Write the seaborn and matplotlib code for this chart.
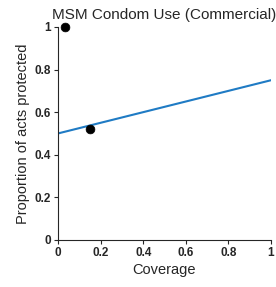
import matplotlib
matplotlib.use('Agg')
import matplotlib.pyplot as plt
import seaborn as sns
import pandas as pd

# fitted line end points and observed data
line_x = [0, 1]
line_y = [0.5, 0.75]
obs_x = [0.035, 0.15]
obs_y = [1.0, 0.52]

sns.set_style('ticks')
plt.rcParams['font.family'] = ['Liberation Sans', 'DejaVu Sans']

fig = plt.figure(figsize=(2.76, 2.87), dpi=100)
ax = fig.add_axes([0.21, 0.164, 0.772, 0.742])

sns.lineplot(x=line_x, y=line_y, ax=ax, color='#1f7bc4', linewidth=1.5)
sns.scatterplot(x=obs_x, y=obs_y, ax=ax, color='black', s=40, edgecolor='black', zorder=3, clip_on=False)

ax.set_xlim(0, 1)
ax.set_ylim(0, 1)
ax.set_xticks([0, 0.2, 0.4, 0.6, 0.8, 1])
ax.set_xticklabels(['0', '0.2', '0.4', '0.6', '0.8', '1'])
ax.set_yticks([0, 0.2, 0.4, 0.6, 0.8, 1])
ax.set_yticklabels(['0', '0.2', '0.4', '0.6', '0.8', '1'])
for lab in ax.get_xticklabels() + ax.get_yticklabels():
    lab.set_fontweight('bold')
ax.tick_params(labelsize=8.5, length=3, width=0.8, pad=2)
ax.set_xlabel('Coverage', fontsize=10.5, labelpad=3)
ax.set_ylabel('Proportion of acts protected', fontsize=10.5, labelpad=3)
ax.set_title('MSM Condom Use (Commercial)', fontsize=11, pad=6)
sns.despine(ax=ax)
for sp in ['left', 'bottom']:
    ax.spines[sp].set_linewidth(0.8)

fig.savefig('out.png', dpi=100)
